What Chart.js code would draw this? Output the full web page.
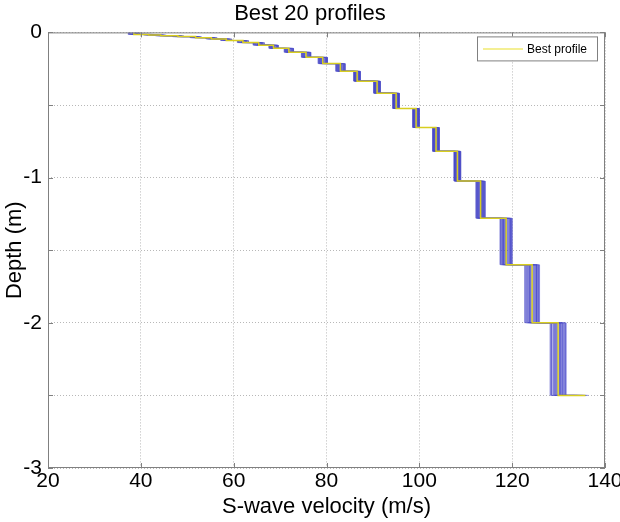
<!DOCTYPE html>
<html>
<head>
<meta charset="utf-8">
<script src="https://cdn.jsdelivr.net/npm/chart.js@4.4.1/dist/chart.umd.min.js"></script>
<style>
  html, body { margin: 0; padding: 0; background: #fff; }
</style>
</head>
<body>
<canvas id="profileChart" width="620" height="522"></canvas>
<script>
// layer tops (m, negative = depth), the last layer ends at baseDepth
var layerTops = [0, -0.014, -0.018, -0.023, -0.029, -0.036, -0.045, -0.056, -0.070, -0.088, -0.110, -0.137,
                 -0.172, -0.215, -0.268, -0.336, -0.419, -0.524, -0.655, -0.819, -1.024, -1.28, -1.6, -2.0];
var baseDepth = -2.5;

// velocity per layer (m/s), last value = half-space velocity drawn at baseDepth
var bestProfile = [38.5, 41.7, 44.3, 48.0, 51.8, 55.2, 58.4, 62.0, 65.4, 68.6, 71.9, 75.6, 79.2, 83.0,
                   86.6, 90.9, 95.0, 99.3, 103.6, 108.2, 113.2, 118.7, 124.3, 129.9, 135.8];

var otherProfiles = [
  [39.7, 42.9, 45.5, 49.2, 53.0, 56.4, 59.6, 63.2, 66.6, 68.1, 71.4, 75.1, 78.7, 82.5, 87.0, 91.3, 95.4, 99.7, 104.0, 108.6, 112.2, 117.4, 122.7, 128.2, 134.0],
  [37.3, 40.5, 43.1, 46.8, 50.6, 54.0, 57.2, 60.8, 64.2, 69.6, 72.9, 76.6, 80.2, 84.0, 85.9, 90.2, 94.3, 98.6, 102.9, 107.5, 114.2, 120.0, 125.9, 131.6, 136.5],
  [39.0, 42.2, 44.8, 48.5, 52.3, 55.7, 58.9, 62.5, 65.9, 68.9, 72.2, 75.9, 79.5, 83.3, 87.3, 91.6, 95.7, 100.0, 104.3, 108.9, 113.6, 118.1, 125.1, 129.0, 135.2],
  [37.9, 41.1, 43.7, 47.4, 51.2, 54.6, 57.8, 61.4, 64.8, 67.6, 70.9, 74.6, 78.2, 82.0, 86.3, 90.6, 94.7, 99.0, 103.3, 107.9, 112.7, 119.6, 123.9, 131.1, 133.6],
  [39.4, 42.6, 45.2, 48.9, 52.7, 56.1, 59.3, 62.9, 66.3, 69.3, 72.6, 76.3, 79.9, 83.7, 86.1, 90.4, 94.5, 98.8, 103.1, 107.7, 113.9, 118.9, 123.1, 130.4, 135.8],
  [37.6, 40.8, 43.4, 47.1, 50.9, 54.3, 57.5, 61.1, 64.5, 68.3, 71.6, 75.3, 78.9, 82.7, 87.2, 91.5, 95.6, 99.9, 104.2, 108.8, 112.4, 118.3, 125.4, 129.6, 134.6],
  [38.7, 41.9, 44.5, 48.2, 52.0, 55.4, 58.6, 62.2, 65.6, 69.6, 72.9, 76.6, 80.2, 84.0, 86.8, 91.1, 95.2, 99.5, 103.8, 108.4, 113.4, 119.8, 124.1, 128.5, 133.2],
  [38.2, 41.4, 44.0, 47.7, 51.5, 54.9, 58.1, 61.7, 65.1, 67.8, 71.1, 74.8, 78.4, 82.2, 85.9, 90.2, 94.3, 98.6, 102.9, 107.5, 113.0, 117.7, 124.7, 130.8, 136.2],
  [39.2, 42.4, 45.0, 48.7, 52.5, 55.9, 59.1, 62.7, 66.1, 68.4, 71.7, 75.4, 79.0, 82.8, 87.3, 91.6, 95.7, 100.0, 104.3, 108.9, 114.1, 119.3, 123.5, 131.3, 135.0],
  [37.5, 40.7, 43.3, 47.0, 50.8, 54.2, 57.4, 61.0, 64.4, 69.1, 72.4, 76.1, 79.7, 83.5, 86.5, 90.8, 94.9, 99.2, 103.5, 108.1, 112.3, 118.5, 125.7, 129.3, 134.3],
  [39.6, 42.8, 45.4, 49.1, 52.9, 56.3, 59.5, 63.1, 66.5, 67.7, 71.0, 74.7, 78.3, 82.1, 86.2, 90.5, 94.6, 98.9, 103.2, 107.8, 113.7, 117.9, 124.5, 130.2, 135.5],
  [38.1, 41.3, 43.9, 47.6, 51.4, 54.8, 58.0, 61.6, 65.0, 69.4, 72.7, 76.4, 80.0, 83.8, 87.1, 91.4, 95.5, 99.8, 104.1, 108.7, 112.8, 119.5, 122.9, 128.8, 133.9],
  [38.9, 42.1, 44.7, 48.4, 52.2, 55.6, 58.8, 62.4, 65.8, 68.0, 71.3, 75.0, 78.6, 82.4, 86.0, 90.3, 94.4, 98.7, 103.0, 107.6, 114.0, 118.2, 125.2, 131.5, 136.0],
  [37.8, 41.0, 43.6, 47.3, 51.1, 54.5, 57.7, 61.3, 64.7, 68.8, 72.1, 75.8, 79.4, 83.2, 86.9, 91.2, 95.3, 99.6, 103.9, 108.5, 112.6, 119.9, 123.7, 129.7, 134.8],
  [39.3, 42.5, 45.1, 48.8, 52.6, 56.0, 59.2, 62.8, 66.2, 69.5, 72.8, 76.5, 80.1, 83.9, 86.4, 90.7, 94.8, 99.1, 103.4, 108.0, 113.3, 118.6, 125.6, 130.6, 135.6],
  [37.4, 40.6, 43.2, 46.9, 50.7, 54.1, 57.3, 60.9, 64.3, 67.9, 71.2, 74.9, 78.5, 82.3, 87.1, 91.4, 95.5, 99.8, 104.1, 108.7, 113.8, 119.1, 123.3, 128.4, 133.4],
  [38.6, 41.8, 44.4, 48.1, 51.9, 55.3, 58.5, 62.1, 65.5, 69.2, 72.5, 76.2, 79.8, 83.6, 86.0, 90.3, 94.4, 98.7, 103.0, 107.6, 112.9, 117.5, 124.9, 130.9, 136.3],
  [38.3, 41.5, 44.1, 47.8, 51.6, 55.0, 58.2, 61.8, 65.2, 68.2, 71.5, 75.2, 78.8, 82.6, 86.7, 91.0, 95.1, 99.4, 103.7, 108.3, 113.5, 119.6, 123.8, 129.2, 134.1],
  [39.1, 42.3, 44.9, 48.6, 52.4, 55.8, 59.0, 62.6, 66.0, 68.7, 72.0, 75.7, 79.3, 83.1, 86.3, 90.6, 94.7, 99.0, 103.3, 107.9, 112.5, 118.0, 125.3, 130.3, 135.3]
];

var xTicks = [20, 40, 60, 80, 100, 120, 140];
var yTicks = [0, -1, -2, -3];

var fontFam = "'Liberation Sans', Arial, Helvetica, sans-serif";

function stepPoints(vel) {
  var pts = [];
  for (var i = 0; i < layerTops.length; i++) {
    var bottom = (i + 1 < layerTops.length) ? layerTops[i + 1] : baseDepth;
    pts.push({x: vel[i], y: layerTops[i]});
    pts.push({x: vel[i], y: bottom});
  }
  pts.push({x: vel[vel.length - 1], y: baseDepth});
  return pts;
}

// best profile on top of the others
var datasets = [{
  label: 'Best profile',
  data: stepPoints(bestProfile),
  borderColor: '#d8ce20',
  borderWidth: 1.5,
  order: 0
}];
for (var k = 0; k < otherProfiles.length; k++) {
  datasets.push({
    label: 'profile ' + (k + 2),
    data: stepPoints(otherProfiles[k]),
    borderColor: 'rgba(70,70,200,0.3)',
    borderWidth: 1,
    order: 1
  });
}
datasets.forEach(function(d) {
  d.showLine = true;
  d.pointRadius = 0;
  d.fill = false;
  d.tension = 0;
});

// matlab style box, inward ticks and legend
var boxPlugin = {
  id: 'matlabBox',
  afterDraw: function(chart) {
    var c = chart.ctx, a = chart.chartArea;
    var sx = chart.scales.x, sy = chart.scales.y;
    c.save();
    c.strokeStyle = '#808080';
    c.lineWidth = 1;
    c.strokeRect(a.left + 0.5, a.top + 0.5, a.right - a.left - 1, a.bottom - a.top - 1);
    c.beginPath();
    sx.ticks.forEach(function(t) {
      var px = Math.round(sx.getPixelForValue(t.value)) + 0.5;
      c.moveTo(px, a.bottom); c.lineTo(px, a.bottom - 5);
      c.moveTo(px, a.top); c.lineTo(px, a.top + 5);
    });
    sy.ticks.forEach(function(t) {
      var py = Math.round(sy.getPixelForValue(t.value)) + 0.5;
      c.moveTo(a.left, py); c.lineTo(a.left + 5, py);
      c.moveTo(a.right, py); c.lineTo(a.right - 5, py);
    });
    c.stroke();

    // legend box
    var best = chart.data.datasets[0];
    var w = 120, h = 24;
    var lx = a.right - w - 8, ly = a.top + 4;
    c.fillStyle = '#fff';
    c.fillRect(lx, ly, w, h);
    c.strokeStyle = '#808080';
    c.strokeRect(lx + 0.5, ly + 0.5, w, h);
    c.strokeStyle = '#f0ea70';
    c.lineWidth = 1.5;
    c.beginPath();
    c.moveTo(lx + 6, ly + h / 2 + 0.5);
    c.lineTo(lx + 46, ly + h / 2 + 0.5);
    c.stroke();
    c.fillStyle = '#000';
    c.font = '12px ' + fontFam;
    c.textBaseline = 'middle';
    c.fillText(best.label, lx + 50, ly + h / 2 + 1);
    c.restore();
  }
};

var ctx = document.getElementById('profileChart');
var profileChart = new Chart(ctx, {
  type: 'scatter',
  data: {datasets: datasets},
  plugins: [boxPlugin],
  options: {
    responsive: false,
    animation: false,
    layout: {padding: {left: 0, right: 0, top: 0, bottom: 0}},
    plugins: {
      legend: {display: false},
      tooltip: {enabled: false},
      title: {
        display: true,
        text: 'Best 20 profiles',
        color: '#000',
        font: {family: fontFam, size: 22, weight: 'normal'},
        padding: {top: 1, bottom: 5}
      }
    },
    scales: {
      x: {
        type: 'linear',
        min: 20, max: 140,
        afterBuildTicks: function(s) { s.ticks = xTicks.map(function(v) { return {value: v}; }); },
        afterFit: function(s) { s.height = 54; s.paddingRight = 15; s.paddingLeft = 0; },
        ticks: {color: '#000', font: {family: fontFam, size: 21}, padding: 1, maxRotation: 0},
        grid: {color: '#b8b8b8', drawTicks: false},
        border: {display: false, dash: [1, 2]},
        title: {display: true, text: 'S-wave velocity (m/s)', color: '#000',
                font: {family: fontFam, size: 22}, padding: {top: -2, bottom: 2}}
      },
      y: {
        type: 'linear',
        min: -3, max: 0,
        afterBuildTicks: function(s) {
          s.ticks = [0, -0.5, -1, -1.5, -2, -2.5, -3].map(function(v) { return {value: v}; });
        },
        afterFit: function(s) { s.width = 48; },
        ticks: {
          color: '#000', font: {family: fontFam, size: 21}, padding: 6,
          callback: function(v) { return yTicks.indexOf(v) >= 0 ? String(v) : ''; }
        },
        grid: {color: '#b8b8b8', drawTicks: false},
        border: {display: false, dash: [1, 2]},
        title: {display: true, text: 'Depth (m)', color: '#000',
                font: {family: fontFam, size: 22}, padding: {top: 2, bottom: 0}}
      }
    }
  }
});
</script>
</body>
</html>
